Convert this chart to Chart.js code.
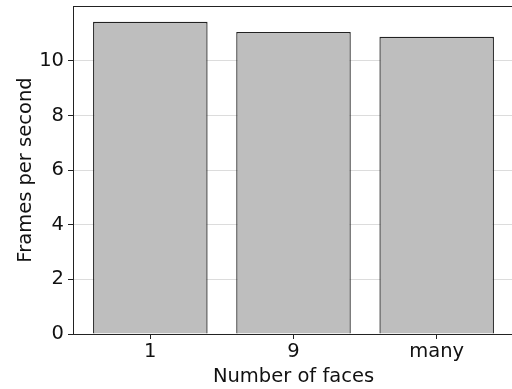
<!DOCTYPE html>
<html>
<head>
<meta charset="utf-8">
<script src="https://cdn.jsdelivr.net/npm/chart.js@4"></script>
<style>
  html, body { margin: 0; padding: 0; background: #fff; overflow: hidden; }
  #wrap { width: 512px; height: 389px; overflow: hidden; }
</style>
</head>
<body>
<div id="wrap"><canvas id="chart" width="518" height="389"></canvas></div>
<script>
const categories = ['1', '9', 'many'];
const fps = [11.43, 11.06, 10.88];
const yTicks = [0, 2, 4, 6, 8, 10];

// draws the top/right spines like matplotlib's boxed axes
const frame = {
  id: 'frame',
  afterDraw(chart) {
    const { ctx, chartArea: a } = chart;
    ctx.save();
    ctx.strokeStyle = '#222';
    ctx.lineWidth = 1;
    ctx.strokeRect(a.left + 0.5, a.top + 0.5, a.right - a.left, a.bottom - a.top);
    ctx.restore();
  }
};

const font = { family: 'DejaVu Sans', size: 19.5 };

new Chart(document.getElementById('chart'), {
  type: 'bar',
  data: {
    datasets: [{
      data: fps.map((v, i) => ({ x: i, y: v })),
      backgroundColor: '#bebebe',
      borderColor: '#222',
      borderWidth: 1.3,
      categoryPercentage: 1,
      barPercentage: 0.8
    }]
  },
  options: {
    responsive: false,
    animation: false,
    layout: { padding: { top: 6, right: 4, left: 0, bottom: 0 } },
    plugins: { legend: { display: false }, tooltip: { enabled: false } },
    scales: {
      x: {
        type: 'linear',
        offset: false,
        min: -0.54,
        max: 2.54,
        afterBuildTicks: s => { s.ticks = categories.map((c, i) => ({ value: i })); },
        afterFit: s => { s.height = 55; s.paddingLeft = 0; s.paddingRight = 0; },
        ticks: {
          color: '#111',
          font: font,
          padding: 1,
          callback: v => categories[v]
        },
        grid: { offset: false, drawOnChartArea: false, tickLength: 5, tickColor: '#222' },
        border: { color: '#222' },
        title: { display: true, text: 'Number of faces', color: '#111', font: font, padding: { top: 0, bottom: 0 } }
      },
      y: {
        min: 0,
        max: 12.01,
        afterBuildTicks: s => { s.ticks = yTicks.map(v => ({ value: v })); },
        afterFit: s => { s.width = 73; s.paddingTop = 0; s.paddingBottom = 0; },
        ticks: { color: '#111', font: font, padding: 4 },
        grid: { color: '#dcdcdc', tickLength: 5, tickColor: '#222' },
        border: { color: '#222' },
        title: { display: true, text: 'Frames per second', color: '#111', font: font, padding: { top: 14, bottom: 4 } }
      }
    }
  },
  plugins: [frame]
});
</script>
</body>
</html>
